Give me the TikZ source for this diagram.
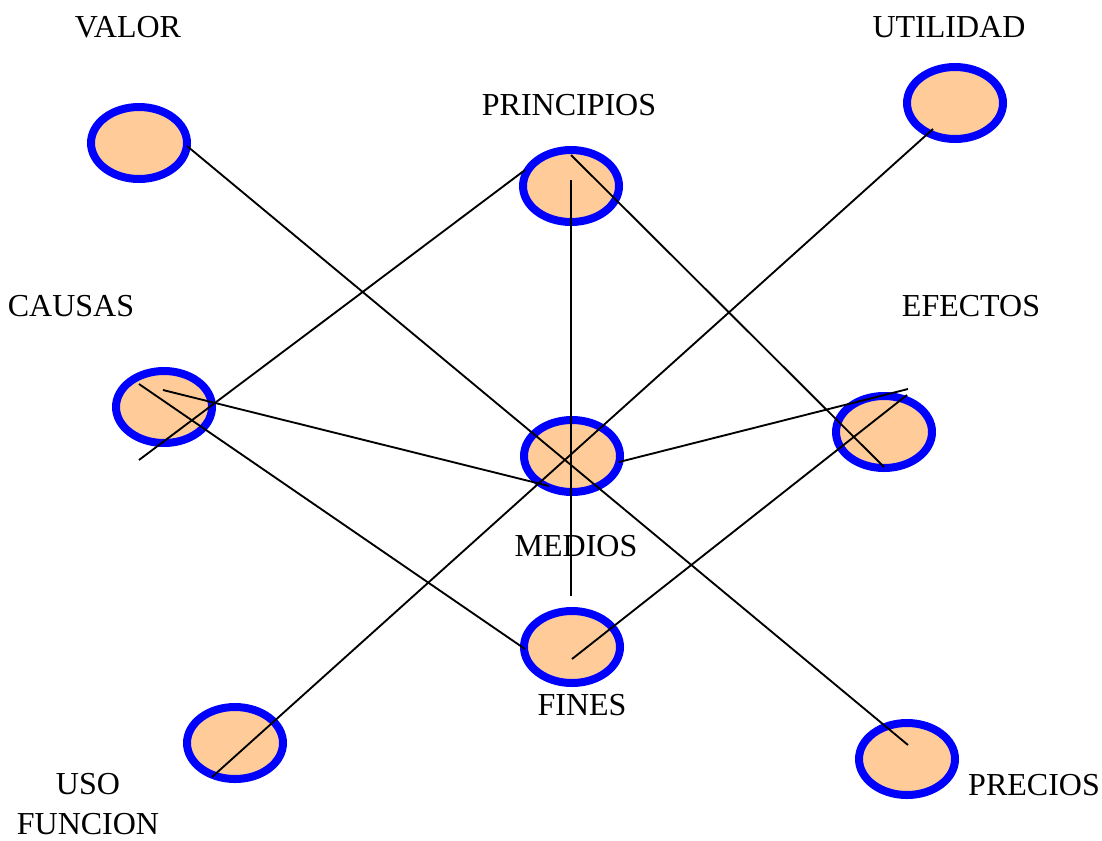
\documentclass[tikz,border=0pt]{standalone}
\usepackage{fontspec}
\setmainfont{Liberation Serif}
\usetikzlibrary{shapes.geometric}
\definecolor{peach}{RGB}{255,204,153}
\tikzset{
	bubble/.style={ellipse,draw=blue,line width=6pt,fill=peach,minimum width=72pt,minimum height=54pt,inner sep=0pt},
	word/.style={font=\fontsize{24}{28}\selectfont,inner sep=0pt,align=center},
	link/.style={line width=1.4pt,black}
}
\begin{document}
\begin{tikzpicture}[x=0.75pt,y=-0.75pt]
			\useasboundingbox (0,0) rectangle (1102,840);
			\node [bubble] (valor) at (139,143) {};
			\node [bubble] (principios) at (571,186) {};
			\node [bubble] (utilidad) at (955,103) {};
			\node [bubble] (causas) at (164,407) {};
			\node [bubble] (medios) at (572,456) {};
			\node [bubble] (efectos) at (884,432) {};
			\node [bubble] (fines) at (572,647) {};
			\node [bubble] (uso) at (235,743) {};
			\node [bubble] (precios) at (907,759) {};
			\node [word] (tvalor) at (128,27) {VALOR};
			\node [word] (tutilidad) at (949,27) {UTILIDAD};
			\node [word] (tprincipios) at (569,105) {PRINCIPIOS};
			\node [word] (tcausas) at (71,306) {CAUSAS};
			\node [word] (tefectos) at (971,306) {EFECTOS};
			\node [word] (tmedios) at (576,546) {MEDIOS};
			\node [word] (tfines) at (582,705) {FINES};
			\node [word] (tuso) at (88,804) {USO\\[2pt]FUNCION};
			\node [word] (tprecios) at (1034,785) {PRECIOS};
			\coordinate (stem) at ([shift={(-1,-51)}]fines.center);
			\draw [link] ([shift={(48,3)}]valor.center) -- ([shift={(1,-14)}]precios.center);
			\draw [link] ([shift={(0,-31)}]principios.center) -- ([shift={(0,35)}]efectos.center);
			\draw [link] ([shift={(0,-6)}]principios.center) -- (stem);
			\draw [link] ([shift={(-46,-16)}]principios.center) -- ([shift={(-25,53)}]causas.center);
			\draw [link] ([shift={(-22,26)}]utilidad.center) -- ([shift={(-23,34)}]uso.center);
			\draw [link] ([shift={(-25,-23)}]causas.center) -- ([shift={(-47,2)}]fines.center);
			\draw [link] ([shift={(-1,-17)}]causas.center) -- ([shift={(-23,30)}]medios.center);
			\draw [link] ([shift={(47,6)}]medios.center) -- ([shift={(24,-43)}]efectos.center);
			\draw [link] ([shift={(0,12)}]fines.center) -- ([shift={(23,-37)}]efectos.center);
		\end{tikzpicture}
\end{document}
